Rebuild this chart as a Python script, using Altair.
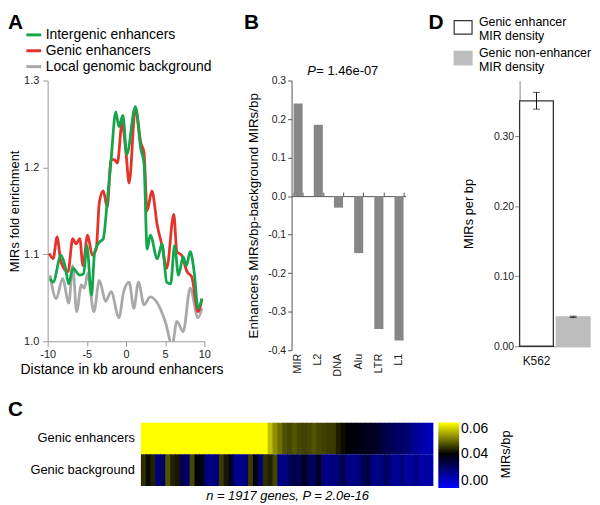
import altair as alt
import pandas as pd

FONT = "Liberation Sans"

# ---------------- Panel A data ----------------
series_names = ["Intergenic enhancers", "Genic enhancers", "Local genomic background"]
series_colors = ["#15a54a", "#e3342b", "#a9a9a9"]

green_kb = [-9.7, -9.3, -8.3, -7.8, -7.3, -6.8, -5.9, -5.4, -5.0, -4.4,
            -4.0, -3.4, -2.9, -2.4, -1.9, -1.3, -0.9, -0.4, 0.1, 1.2,
            1.9, 2.3, 2.7, 3.1, 4.0, 4.6, 5.2, 5.7, 6.2, 6.7,
            7.3, 7.7, 8.2, 8.7, 9.2, 9.7]
green_val = [1.072, 1.068, 1.099, 1.087, 1.066, 1.084, 1.076, 1.078, 1.110, 1.053,
             1.103, 1.114, 1.118, 1.160, 1.209, 1.264, 1.247, 1.260, 1.215, 1.270,
             1.221, 1.205, 1.106, 1.122, 1.095, 1.112, 1.068, 1.066, 1.110, 1.076,
             1.097, 1.087, 1.103, 1.080, 1.038, 1.049]

red_kb = [-9.8, -9.3, -8.8, -8.3, -7.4, -6.8, -6.4, -5.9, -5.5, -4.9,
          -4.3, -3.8, -3.4, -2.9, -2.4, -1.9, -1.5, -1.1, -0.5, 0.0,
          0.4, 1.2, 1.9, 2.3, 2.7, 3.3, 4.0, 4.6, 5.2, 6.1,
          6.5, 7.1, 7.8, 8.4, 9.2, 9.7]
red_val = [1.101, 1.095, 1.120, 1.091, 1.080, 1.118, 1.112, 1.118, 1.087, 1.122,
           1.099, 1.106, 1.160, 1.173, 1.154, 1.209, 1.209, 1.205, 1.251, 1.217,
           1.182, 1.268, 1.228, 1.217, 1.150, 1.173, 1.133, 1.110, 1.084, 1.146,
           1.103, 1.099, 1.080, 1.074, 1.034, 1.049]

gray_kb = [-9.7, -8.9, -8.1, -7.3, -6.8, -6.3, -5.7, -5.3, -4.9, -4.1,
           -3.4, -2.6, -1.9, -0.9, -0.3, 0.4, 1.0, 1.6, 2.3, 3.1,
           4.0, 5.0, 5.9, 6.5, 7.3, 8.2, 9.2, 9.7]
gray_val = [1.076, 1.049, 1.072, 1.044, 1.087, 1.034, 1.065, 1.061, 1.078, 1.034,
            1.070, 1.046, 1.057, 1.027, 1.057, 1.068, 1.038, 1.068, 1.042, 1.051,
            1.044, 1.023, 0.996, 1.023, 1.011, 1.061, 1.027, 1.038]

a_x_ticks = [-10, -5, 0, 5, 10]
a_y_ticks = [1.0, 1.1, 1.2, 1.3]

# ---------------- Panel B data ----------------
b_cats = ["MIR", "L2", "DNA", "Alu", "LTR", "L1"]
b_vals = [0.240, 0.185, -0.030, -0.148, -0.345, -0.375]
b_y_ticks = [-0.4, -0.3, -0.2, -0.1, 0.0, 0.1, 0.2, 0.3]

# ---------------- Panel D data ----------------
d_bar = ["e", "n"]
d_label = ["Genic enhancer|MIR density", "Genic non-enhancer|MIR density"]
d_val = [0.351, 0.042]
d_lo = [0.339, 0.041]
d_hi = [0.363, 0.043]
d_y_ticks = [0.0, 0.05, 0.10, 0.15, 0.20, 0.25, 0.30, 0.35]

# ---------------- Panel C data ----------------
heat_rows = ["Genic enhancers", "Genic background"]
enh_vals = [0.065] * 26 + [
    0.0554, 0.0518, 0.0494, 0.0467,
    0.046, 0.047, 0.046, 0.0455, 0.046, 0.047, 0.046, 0.0455, 0.045, 0.045,
    0.0427, 0.041, 0.040,
    0.039, 0.038, 0.038, 0.037, 0.037, 0.036, 0.0334,
    0.032, 0.031, 0.030, 0.029, 0.028,
    0.025, 0.023, 0.021, 0.019, 0.018]
bg_vals = [0.044, 0.041, 0.043, 0.026, 0.030, 0.047, 0.043, 0.042, 0.032, 0.028,
           0.046, 0.039, 0.038, 0.027, 0.025, 0.027, 0.045, 0.042, 0.036, 0.024,
           0.024, 0.027, 0.045, 0.038, 0.028, 0.044, 0.043, 0.046, 0.025, 0.026,
           0.030, 0.033, 0.031, 0.037, 0.031, 0.030, 0.037, 0.026, 0.025, 0.026,
           0.028, 0.032, 0.026, 0.025, 0.026, 0.030, 0.034, 0.026, 0.025, 0.027,
           0.030, 0.024, 0.023, 0.027, 0.022, 0.022, 0.025, 0.021, 0.021, 0.020]
cbar_ticks = [0.0, 0.04, 0.06]

MINUS_FIX = "replace(datum.label, '\u2212', '-')"
LETTER_Y = -52


def letter(t, x, y):
    return alt.Chart(pd.DataFrame({"t": [t]})).mark_text(
        align="left", baseline="alphabetic", fontSize=21, fontWeight="bold",
        font=FONT, color="black").encode(text="t:N", x=alt.value(x), y=alt.value(y))


def label_text(t, x, y, **kw):
    return alt.Chart(pd.DataFrame({"t": [t]})).mark_text(font=FONT, color="black", **kw).encode(
        text="t:N", x=alt.value(x), y=alt.value(y))


# ---------------- Panel A ----------------
dfA = pd.concat([
    pd.DataFrame({"series": series_names[0], "kb": green_kb, "val": green_val}),
    pd.DataFrame({"series": series_names[1], "kb": red_kb, "val": red_val}),
    pd.DataFrame({"series": series_names[2], "kb": gray_kb, "val": gray_val}),
], ignore_index=True)

axA_x = alt.Axis(values=a_x_ticks, title="Distance in kb around enhancers", titleFontSize=14,
                 titleX=74.5, titleY=22, titleBaseline="top", titleAlign="center",
                 labelFontSize=11, tickSize=5, labelPadding=2, labelFlush=False,
                 domainColor="#9a9a9a", tickColor="#9a9a9a",
                 labelColor="#222", labelExpr=MINUS_FIX)
axA_y = alt.Axis(values=a_y_ticks, format=".1f", title="MIRs fold enrichment", titleFontSize=13,
                 titlePadding=2, labelFontSize=11, tickSize=5, labelPadding=4,
                 domainColor="#9a9a9a", tickColor="#9a9a9a", labelColor="#222")
legA = alt.Legend(title=None, orient="none", legendX=-23, legendY=-55, symbolType="stroke",
                  symbolStrokeWidth=3, symbolSize=225, labelFontSize=14, labelColor="#000",
                  labelOffset=3, rowPadding=-6, padding=0, labelLimit=400)

baseA = alt.Chart(dfA).encode(
    x=alt.X("kb:Q", scale=alt.Scale(domain=[-10, 10], nice=False), axis=axA_x),
    y=alt.Y("val:Q", scale=alt.Scale(domain=[1.0, 1.3], nice=False, zero=False), axis=axA_y),
    color=alt.Color("series:N", scale=alt.Scale(domain=series_names, range=series_colors), legend=legA),
)
linesA = [baseA.transform_filter(alt.datum.series == s).mark_line(
    strokeWidth=2.8, interpolate="monotone", clip=True) for s in [series_names[2], series_names[1], series_names[0]]]
panelA = alt.layer(*linesA, letter("A", -40, LETTER_Y)).properties(width=158, height=263)

# ---------------- Panel B ----------------
dfB = pd.DataFrame({"cat": b_cats, "diff": b_vals})
xB_scale = alt.Scale(paddingInner=0.55, paddingOuter=0.1)
barsB = alt.Chart(dfB).mark_bar(color="#878787").encode(
    x=alt.X("cat:N", sort=b_cats, scale=xB_scale,
            axis=alt.Axis(title=None, orient="bottom", domain=False, ticks=False, labelAngle=270,
                          labelAlign="right", labelBaseline="middle", labelPadding=3,
                          labelFontSize=11, labelColor="#222")),
    y=alt.Y("diff:Q", scale=alt.Scale(domain=[-0.4, 0.3], nice=False),
            axis=alt.Axis(values=b_y_ticks, format=".1f", title="Enhancers MIRs/bp-background MIRs/bp",
                          titleFontSize=13.5, titlePadding=7, labelFontSize=10.5, tickSize=4,
                          labelPadding=2, domainColor="#555", tickColor="#555", labelColor="#222",
                          labelExpr=MINUS_FIX)),
)
zeroB = alt.Chart(dfB).mark_point(opacity=0).encode(
    x=alt.X("cat:N", sort=b_cats, scale=xB_scale,
            axis=alt.Axis(title=None, orient="top", offset=-116.6, labels=False, ticks=True,
                          tickBand="extent", tickSize=4, domainColor="#555", tickColor="#555")),
    y=alt.value(0),
)
panelB = alt.layer(
    barsB, zeroB, letter("B", -48, LETTER_Y),
    label_text("P", 24.5, -6, align="right", baseline="alphabetic", fontSize=13, fontStyle="italic"),
    label_text("= 1.46e-07", 25, -6, align="left", baseline="alphabetic", fontSize=13),
).properties(width=115, height=272)

# ---------------- Panel D ----------------
dfD = pd.DataFrame({"bar": d_bar, "label": d_label, "val": d_val, "lo": d_lo, "hi": d_hi})
xD = alt.X("bar:N", sort=d_bar, scale=alt.Scale(paddingInner=0.08, paddingOuter=0),
           axis=alt.Axis(title=None, labelAngle=0, ticks=False, labelFontSize=12, labelPadding=9,
                         domainColor="#888", labelColor="#111",
                         labelExpr="datum.value == 'e' ? 'K562' : ''"))
yD_scale = alt.Scale(domain=[0, 0.38], nice=False)
legD = alt.Legend(title=None, orient="none", legendX=-67, legendY=-69,
                  symbolType="M-1,-0.15L1,-0.15L1,1.35L-1,1.35Z", symbolSize=324,
                  symbolStrokeWidth=1.2, labelFontSize=12.5, labelColor="#000", labelOffset=6,
                  rowPadding=-6, padding=0, labelExpr="split(datum.label, '|')")
barsD = alt.Chart(dfD).mark_bar(strokeWidth=1.3).encode(
    x=xD,
    y=alt.Y("val:Q", scale=yD_scale,
            axis=alt.Axis(values=d_y_ticks, format=".2f", title="MIRs per bp", titleFontSize=13,
                          titlePadding=18, labelFontSize=10.5, tickSize=5, labelPadding=1,
                          domainColor="#888", tickColor="#888", labelColor="#222")),
    fill=alt.Fill("label:N", scale=alt.Scale(domain=d_label, range=["#ffffff", "#bdbdbd"]), legend=legD),
    stroke=alt.Stroke("label:N", scale=alt.Scale(domain=d_label, range=["#333333", "#bdbdbd"]), legend=legD),
)
errD = alt.Chart(dfD).mark_rule(color="#111", strokeWidth=1).encode(x=xD, y=alt.Y("lo:Q", scale=yD_scale), y2="hi:Q")
capLo = alt.Chart(dfD).mark_tick(color="#111", thickness=1, size=7).encode(x=xD, y=alt.Y("lo:Q", scale=yD_scale))
capHi = alt.Chart(dfD).mark_tick(color="#111", thickness=1, size=7).encode(x=xD, y=alt.Y("hi:Q", scale=yD_scale))
panelD = alt.layer(barsD, errD, capLo, capHi, letter("D", -92, LETTER_Y)).properties(width=71, height=268)

# ---------------- Panel C ----------------
dfC = pd.DataFrame({
    "row": [heat_rows[0]] * len(enh_vals) + [heat_rows[1]] * len(bg_vals),
    "col": list(range(len(enh_vals))) + list(range(len(bg_vals))),
    "v": enh_vals + bg_vals,
})
yC = alt.Y("row:N", sort=heat_rows, scale=alt.Scale(paddingInner=0, paddingOuter=0), axis=None)
heat = alt.Chart(dfC).transform_calculate(col2="datum.col + 1.15").mark_rect(clip=True).encode(
    x=alt.X("col:Q", axis=None, scale=alt.Scale(domain=[-19.12, 60], nice=False, zero=False)),
    x2="col2:Q",
    y=yC,
    color=alt.Color("v:Q", scale=alt.Scale(type="pow", exponent=1.6, domain=[0, 0.04, 0.06],
                                           range=["#0000ff", "#000000", "#ffff00"], clamp=True,
                                           interpolate="rgb"),
                    legend=alt.Legend(title=None, orient="right", offset=5, gradientLength=66,
                                      gradientThickness=21, values=cbar_ticks, format=".2f",
                                      labelFontSize=14, labelOffset=2, direction="vertical",
                                      gradientStrokeWidth=0, padding=0, labelColor="#000")),
)
rowLabels = alt.Chart(pd.DataFrame({"row": heat_rows})).mark_text(
    font=FONT, fontSize=13, align="right", baseline="middle", color="black").encode(
    y=yC, x=alt.value(88), text="row:N")
panelC = alt.layer(
    heat, rowLabels, letter("C", -40, -7),
    label_text("n = 1917 genes, P = 2.0e-16", 242, 78, align="center", baseline="alphabetic",
               fontSize=13, fontStyle="italic"),
    label_text("MIRs/bp", 462, 32, align="center", baseline="middle", fontSize=13, angle=270),
).properties(width=389, height=64)

RES = dict(color="independent", fill="independent", stroke="independent")
topAB = alt.hconcat(panelA, panelB, spacing=21).resolve_scale(**RES).resolve_legend(**RES)
top = alt.hconcat(topAB, panelD, spacing=23).resolve_scale(**RES).resolve_legend(**RES)
chart = alt.vconcat(top, panelC, spacing=22).resolve_scale(**RES).resolve_legend(**RES).properties(
    padding={"top": 2, "left": 0, "right": 0, "bottom": 0}
).configure(
    font=FONT
).configure_view(stroke=None).configure_axis(
    grid=False, labelFont=FONT, titleFont=FONT, titleFontWeight="normal", titleColor="#000"
).configure_legend(labelFont=FONT)

chart.save("out.html", embed_options={"renderer": "svg", "actions": False})
